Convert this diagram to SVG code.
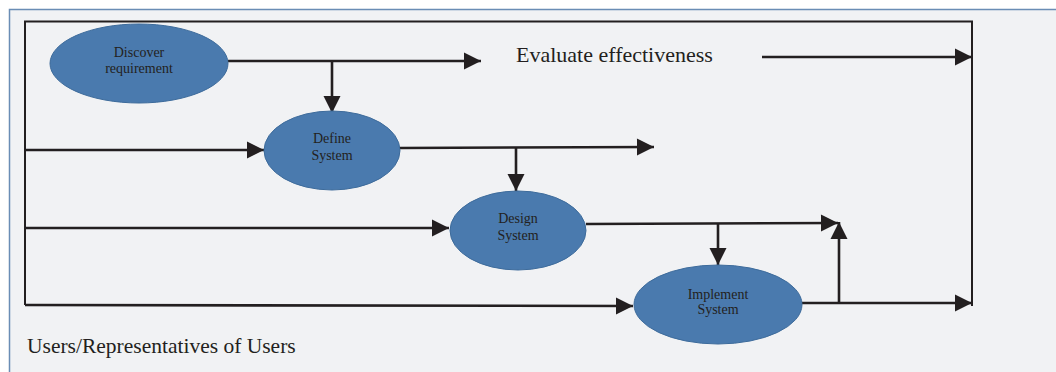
<svg xmlns="http://www.w3.org/2000/svg" width="1056" height="372" viewBox="0 0 1056 372">
<style>
.node ellipse{fill:#4a7aae;stroke:#3d6b9b;stroke-width:1}
.node text{font-family:"Liberation Serif","Times New Roman",serif;font-size:14px;fill:#231f20;text-anchor:middle}
.lbl{font-family:"Liberation Serif","Times New Roman",serif;fill:#231f20}
.c{fill:none;stroke:#231f20;stroke-width:2.6}
.a{marker-end:url(#ah)}
.f{fill:none;stroke:#231f20;stroke-width:2}
</style>
<defs>
<marker id="ah" markerUnits="userSpaceOnUse" markerWidth="18" markerHeight="17" refX="17" refY="8.5" orient="auto" overflow="visible">
<path d="M0,0 L17,8.5 L0,17 z" fill="#231f20"/>
</marker>
</defs>
<rect x="9.5" y="9.5" width="1060" height="380" fill="#f1f2f4" stroke="#6a8db5" stroke-width="1.5"/>
<g id="connectors">
<path class="f" d="M25,305 L25,21.5 L972,21.5 L972,306"/>
<path class="c a" d="M228,61 L481,61"/>
<path class="c a" d="M332,61 L332,113"/>
<path class="c a" d="M762,57 L972,57"/>
<path class="c a" d="M25,150 L264,150"/>
<path class="c a" d="M400,148 L654,147"/>
<path class="c a" d="M516,147 L516,191"/>
<path class="c a" d="M25,228 L449,228"/>
<path class="c a" d="M586,224 L838,223"/>
<path class="c a" d="M718,223 L718,265"/>
<path class="c a" d="M839,304 L839,222"/>
<path class="c a" d="M25,305 L633,306"/>
<path class="c a" d="M802,303 L972,303"/>
</g>
<g id="discover" class="node">
<ellipse cx="139" cy="63.5" rx="89" ry="39.5"/>
<text x="139" y="57">Discover</text>
<text x="139" y="73">requirement</text>
</g>
<g id="define" class="node">
<ellipse cx="332" cy="150.5" rx="68" ry="39.5"/>
<text x="332" y="143">Define</text>
<text x="332" y="160">System</text>
</g>
<g id="design" class="node">
<ellipse cx="518" cy="230.5" rx="68" ry="39.5"/>
<text x="518" y="223">Design</text>
<text x="518" y="240">System</text>
</g>
<g id="implement" class="node">
<ellipse cx="718" cy="304.5" rx="84" ry="39.5"/>
<text x="718" y="299">Implement</text>
<text x="718" y="314">System</text>
</g>
<text id="evaluate" class="lbl" x="516" y="62" font-size="22">Evaluate effectiveness</text>
<text id="users" class="lbl" x="27" y="353" font-size="21.5">Users/Representatives of Users</text>
</svg>
